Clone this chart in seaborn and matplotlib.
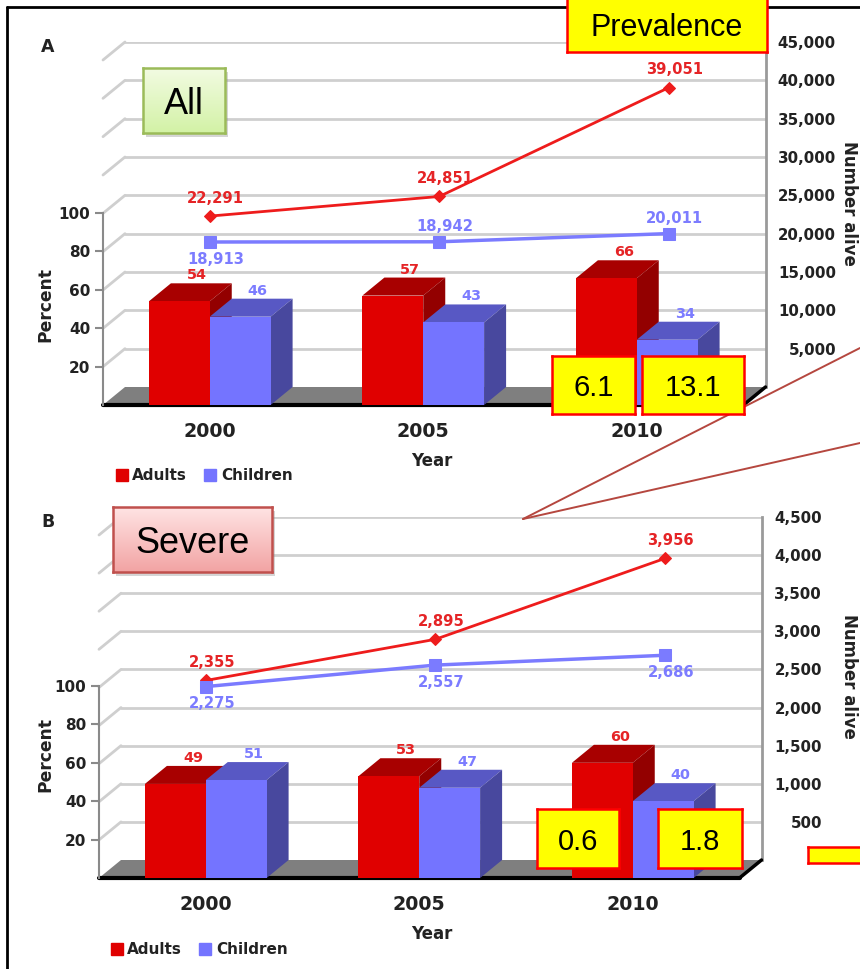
import numpy as np
import pandas as pd
import matplotlib
matplotlib.use("Agg")
import matplotlib.pyplot as plt
import seaborn as sns
from matplotlib.patches import Polygon, Rectangle
from matplotlib.lines import Line2D
from matplotlib.colors import LinearSegmentedColormap

years = ["2000", "2005", "2010"]
groups = ["Adults", "Children"]
pct_ticks = [20, 40, 60, 80, 100]

# A - all
all_pct_adults = [54, 57, 66]
all_pct_children = [46, 43, 34]
all_alive_adults = [22291, 24851, 39051]
all_alive_children = [18913, 18942, 20011]
all_alive_ticks = [5000, 10000, 15000, 20000, 25000, 30000, 35000, 40000, 45000]
all_box_vals = ["6.1", "13.1"]

# B - severe
sev_pct_adults = [49, 53, 60]
sev_pct_children = [51, 47, 40]
sev_alive_adults = [2355, 2895, 3956]
sev_alive_children = [2275, 2557, 2686]
sev_alive_ticks = [500, 1000, 1500, 2000, 2500, 3000, 3500, 4000, 4500]
sev_box_vals = ["0.6", "1.8"]

RED, RED_TOP, RED_SIDE = "#e00000", "#a80000", "#930000"
BLUE, BLUE_TOP, BLUE_SIDE = "#7474ff", "#5858c4", "#48489e"
RED_TXT, BLUE_TXT = "#e52426", "#7c7cff"
GRID = "#cfcfcf"
DARK = "#222222"

sns.set_style("white")
plt.rcParams["font.family"] = ["DejaVu Sans"]
plt.rcParams["font.weight"] = "bold"
plt.rcParams["axes.labelweight"] = "bold"

W, H = 860, 969
fig = plt.figure(figsize=(W / 100, H / 100), dpi=100)


def fbox(x0, y0, x1, y1):
    return [x0 / W, 1 - y1 / H, (x1 - x0) / W, (y1 - y0) / H]


BAND, DX_PX, DY_PX, PCT_PX = 213.5, 22, 18, 1.92
LINE_STEP = 1.075


def panel(left, top, bottom, pct_a, pct_c, alive_a, alive_c, ticks,
          lab_right, pct_lab_y, blue_below):
    right = left + 3 * BAND + DX_PX
    w_px, h_px = right - left, bottom - top
    dx, dy = DX_PX / BAND, DY_PX / PCT_PX
    ax = fig.add_axes(fbox(left, top, right, bottom))
    ax2 = ax.twinx()
    ax.set_zorder(2)
    ax2.set_zorder(1)
    ax.patch.set_visible(False)

    # bars (front faces)
    df = pd.DataFrame({"year": years * 2,
                       "group": [groups[0]] * 3 + [groups[1]] * 3,
                       "pct": pct_a + pct_c})
    sns.barplot(data=df, x="year", y="pct", hue="group", palette=[RED, BLUE],
                saturation=1, width=0.57, ax=ax, legend=False, zorder=3, linewidth=0)

    faces = [(RED_TOP, RED_SIDE, 2.0, RED_TXT), (BLUE_TOP, BLUE_SIDE, 2.5, BLUE_TXT)]
    for cont, (ctop, cside, z, tc) in zip(ax.containers, faces):
        for bar in cont:
            x0, w, h = bar.get_x(), bar.get_width(), bar.get_height()
            ax.add_patch(Polygon([(x0, h), (x0 + w, h), (x0 + w + dx, h + dy), (x0 + dx, h + dy)],
                                 closed=True, fc=ctop, ec="none", zorder=z))
            ax.add_patch(Polygon([(x0 + w, 0), (x0 + w + dx, dy), (x0 + w + dx, h + dy), (x0 + w, h)],
                                 closed=True, fc=cside, ec="none", zorder=z))
            ax.text(x0 + w / 2 + 0.8 * dx, h + dy + 0.5, f"{h:.0f}", ha="center", va="bottom",
                    color=tc, fontsize=10.4, zorder=4)

    # floor
    ax.add_patch(Polygon([(-0.5, 0), (2.5, 0), (2.5 + dx, dy), (-0.5 + dx, dy)],
                         closed=True, fc="#7f7f7f", ec="none", zorder=1))
    ax.plot([-0.5, 2.5], [0, 0], color="black", lw=3, zorder=1.5, clip_on=False)
    ax.plot([2.5, 2.5 + dx], [0, dy], color="black", lw=2.5, zorder=1.5, clip_on=False)

    # back wall grid + lines for number alive
    ymax = ticks[-1]
    depth = ymax * DY_PX / (h_px - DY_PX)
    for v in ticks:
        ax2.plot([-0.5 + dx, 2.5 + dx], [v, v], color=GRID, lw=2, zorder=0)
        ax2.plot([-0.5, -0.5 + dx], [v - depth, v], color=GRID, lw=2, zorder=0, clip_on=False)

    pos = [i * LINE_STEP for i in range(3)]
    sns.lineplot(x=pos, y=alive_a, ax=ax2, color="#ee1c1c", lw=2, marker="D",
                 markersize=6, markeredgecolor="#ee1c1c", zorder=4)
    sns.lineplot(x=pos, y=alive_c, ax=ax2, color="#7b7bff", lw=2.5, marker="s",
                 markersize=8, markeredgecolor="#7b7bff", zorder=4)
    for x, v in zip(pos, alive_a):
        ax2.annotate(f"{v:,}", (x, v), xytext=(6, 18), textcoords="offset pixels",
                     ha="center", va="center", color=RED_TXT, fontsize=10.6)
    for x, v, below in zip(pos, alive_c, blue_below):
        ax2.annotate(f"{v:,}", (x, v), xytext=(6, -17 if below else 15), textcoords="offset pixels",
                     ha="center", va="center", color=BLUE_TXT, fontsize=10.6)

    ax.set_xlim(-0.5, 2.5 + dx)
    ax.set_ylim(0, h_px / PCT_PX)
    ax2.set_ylim(-depth, ymax)

    # spines
    for s in ["top", "right", "bottom"]:
        ax.spines[s].set_visible(False)
    for s in ["left", "top", "bottom"]:
        ax2.spines[s].set_visible(False)
    ax.spines["left"].set_bounds(0, 100)
    ax.spines["left"].set_color("#8a8a8a")
    ax.spines["left"].set_linewidth(1.5)
    ax2.spines["right"].set_bounds(0, ymax)
    ax2.spines["right"].set_color("#9a9a9a")
    ax2.spines["right"].set_linewidth(2)

    # ticks
    ax.set_yticks(pct_ticks)
    ax.tick_params(axis="y", length=6, width=1.5, color="#8a8a8a", labelsize=11, pad=3, labelcolor=DARK)
    ax.set_xticks([0, 1, 2], years)
    ax.set_xticks([0.5, 1.5], minor=True)
    ax.tick_params(axis="x", which="major", length=0, pad=12, labelsize=13.7, labelcolor=DARK)
    ax.tick_params(axis="x", which="minor", length=4, width=1, color="#b0b0b0")
    ax2.set_yticks(ticks, [f"{v:,}" for v in ticks])
    ax2.tick_params(axis="y", length=0, pad=(lab_right - right) * 0.72, labelsize=10.8, labelcolor=DARK)
    for t in ax2.get_yticklabels():
        t.set_ha("right")

    # axis titles
    ax.set_xlabel("Year", fontsize=12, fontweight="bold", color=DARK)
    ax.xaxis.set_label_coords((432 - left) / w_px, -56 / h_px)
    ax.xaxis.label.set_va("center")
    ax.set_ylabel("Percent", fontsize=12.3, fontweight="bold", color=DARK)
    ax.yaxis.set_label_coords((45 - left) / w_px, (bottom - pct_lab_y) / h_px)
    ax.yaxis.label.set_va("center")
    ax2.set_ylabel("Number alive", fontsize=12, fontweight="bold", color=DARK, rotation=-90)
    ax2.yaxis.set_label_coords((849 - left) / w_px, 202 / h_px)
    ax2.yaxis.label.set_va("center")
    return ax


panel(103, 42, 405, all_pct_adults, all_pct_children, all_alive_adults, all_alive_children,
      all_alive_ticks, 836, 305, [True, False, False])
panel(99, 517, 878, sev_pct_adults, sev_pct_children, sev_alive_adults, sev_alive_children,
      sev_alive_ticks, 822, 754, [True, True, True])

# legends
handles = [Line2D([], [], marker="s", ls="none", color=c, markersize=8) for c in (RED, BLUE)]
for lx, ly in [(114, 476), (109, 950)]:
    fig.legend(handles, groups, loc="center left", bbox_to_anchor=(lx / W, 1 - ly / H), ncol=2,
               frameon=False, prop=dict(weight="bold", size=11), handletextpad=0.2,
               columnspacing=1.0, handlelength=1, borderaxespad=0, borderpad=0,
               labelcolor=DARK)

fig.text(48 / W, 1 - 47 / H, "A", ha="center", va="center", fontsize=12.5, color=DARK)
fig.text(48 / W, 1 - 522 / H, "B", ha="center", va="center", fontsize=12.5, color=DARK)

# frame
fig.add_artist(Line2D([7 / W, 7 / W], [0, 1 - 7 / H], color="black", lw=2, zorder=5))
fig.add_artist(Line2D([7 / W, 1], [1 - 7 / H, 1 - 7 / H], color="black", lw=2, zorder=5))

# callout pointer lines
for ey in (348, 443):
    fig.add_artist(Line2D([523 / W, 1], [1 - 519 / H, 1 - ey / H], color="#b5473f", lw=1.4, zorder=5))


def callout(x0, y0, x1, y1, text, size, edge, face=None, grad=None, shadow=False):
    if shadow:
        fig.add_artist(Rectangle((x0 / W + 3 / W, 1 - y1 / H - 4 / H), (x1 - x0) / W, (y1 - y0) / H,
                                 transform=fig.transFigure, fc="#888888", alpha=0.35, ec="none", zorder=9))
    a = fig.add_axes(fbox(x0, y0, x1, y1), zorder=10)
    a.set_xticks([])
    a.set_yticks([])
    if grad is not None:
        cmap = LinearSegmentedColormap.from_list("g", grad)
        a.imshow(np.linspace(0, 1, 64)[:, None], cmap=cmap, aspect="auto", extent=[0, 1, 0, 1])
    else:
        a.set_facecolor(face)
    for s in a.spines.values():
        s.set_color(edge)
        s.set_linewidth(1.8)
    a.text(0.5, 0.5, text, ha="center", va="center_baseline", fontsize=size, fontweight="normal",
           family=["Liberation Sans", "DejaVu Sans"], color="black", transform=a.transAxes)


callout(567, -2, 767, 52, "Prevalence", 22, "#ff0000", face="#ffff00")
callout(143, 68, 225, 133, "All", 26, "#9bbb59", grad=["#f2fbe2", "#d3f2a6"], shadow=True)
callout(552, 356, 635, 414, all_box_vals[0], 21, "#ff0000", face="#ffff00")
callout(642, 356, 744, 414, all_box_vals[1], 21, "#ff0000", face="#ffff00")
callout(113, 507, 272, 572, "Severe", 26, "#c0504d", grad=["#ffe4e4", "#f2a3a3"], shadow=True)
callout(537, 809, 619, 868, sev_box_vals[0], 21, "#ff0000", face="#ffff00")
callout(658, 809, 742, 868, sev_box_vals[1], 21, "#ff0000", face="#ffff00")
callout(808, 847, 875, 863, "", 8, "#ff0000", face="#ffff00")

fig.savefig("out.png", dpi=100)
